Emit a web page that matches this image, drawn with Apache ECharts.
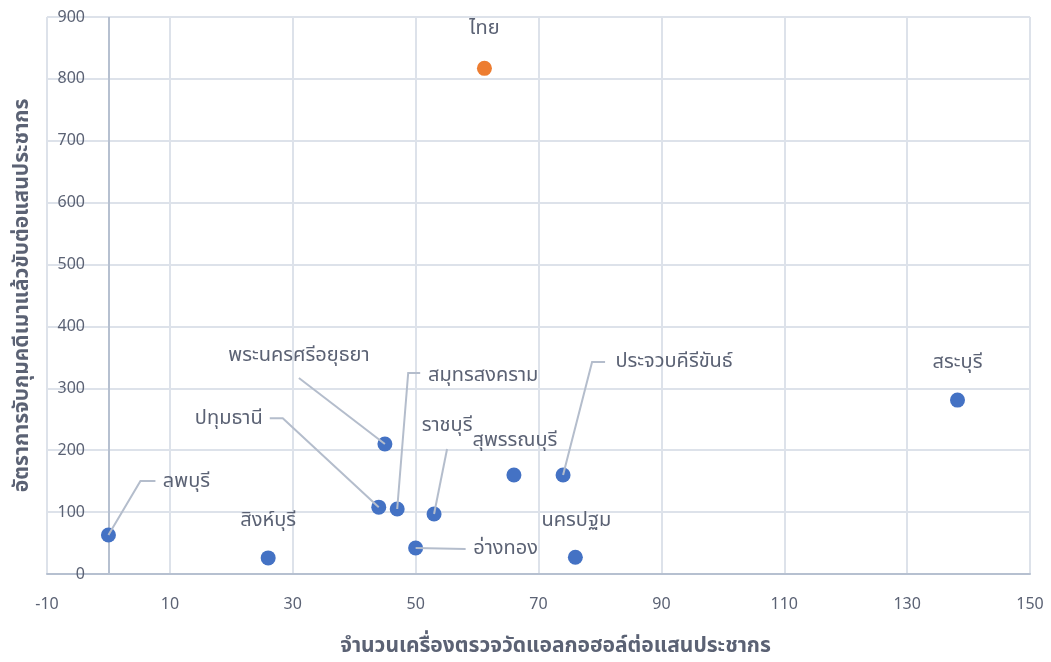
<!DOCTYPE html>
<html>
<head>
<meta charset="utf-8">
<script src="https://cdn.jsdelivr.net/npm/echarts@6/dist/echarts.min.js"></script>
<style>
  html, body { margin: 0; padding: 0; background: #ffffff; }
  #chart { width: 1051px; height: 662px; }
</style>
</head>
<body>
<div id="chart"></div>
<script>
// Provinces and their values
const provinces = ['ไทย', 'สระบุรี', 'ประจวบคีรีขันธ์', 'สุพรรณบุรี', 'นครปฐม', 'อ่างทอง', 'ราชบุรี', 'สมุทรสงคราม', 'ปทุมธานี', 'พระนครศรีอยุธยา', 'สิงห์บุรี', 'ลพบุรี'];
// Breathalyzers per 100,000 population
const breathalyzers = [61.2, 138.2, 74, 66, 76, 50, 53, 47, 44, 45, 26, 0];
// Drunk-driving arrests per 100,000 population
const arrestRate = [817, 281, 160, 160, 27, 42, 97, 105, 108, 210, 26, 63];
// The national figure is highlighted
const highlighted = ['ไทย'];

// Label placement: pixel offset of each label's centre from its marker
const labelOffsets = [[0, -40], [0, -38], [111, -114], [1, -35], [1, -37], [90, 0], [13, -89], [86, -134], [-150, -89], [-86, -89], [0, -38], [78, -54]];
// Leader-line bends (pixel offsets from the marker), null where no line is drawn
const leaderPaths = [
  null,
  null,
  [[29, -113], [42, -113]],
  null,
  null,
  [[50, 1]],
  [[13, -65]],
  [[11, -136], [23, -136]],
  [[-96, -89], [-109, -89]],
  [[-86, -66]],
  null,
  [[32, -54], [47, -54]]
];

const FONT = '"Noto Sans", "Noto Sans Thai", sans-serif';
const TEXT = '#5b6274';
const GRID = '#dde2ea';
const AXIS = '#b6c0d0';
const LEADER = '#b4bdcc';

const chart = echarts.init(document.getElementById('chart'), null, { renderer: 'canvas' });

const points = provinces.map((name, i) => ({
  name: name,
  value: [breathalyzers[i], arrestRate[i]],
  itemStyle: { color: highlighted.includes(name) ? '#ED7D31' : '#4472C4', opacity: 1 }
}));

chart.setOption({
  backgroundColor: '#ffffff',
  animation: false,
  grid: { left: 47, right: 21, top: 17, bottom: 88, containLabel: false, outerBoundsMode: 'none' },
  xAxis: {
    type: 'value',
    min: -10,
    max: 150,
    interval: 20,
    name: 'จำนวนเครื่องตรวจวัดแอลกอฮอล์ต่อแสนประชากร',
    nameLocation: 'middle',
    nameGap: 62,
    nameTextStyle: { color: TEXT, fontSize: 21, fontWeight: 'bold', fontFamily: FONT, padding: [0, 0, 0, 34] },
    axisLine: { show: true, onZero: false, lineStyle: { color: AXIS, width: 2 } },
    axisTick: { show: false },
    axisLabel: { color: TEXT, fontSize: 16, margin: 22, fontFamily: FONT },
    splitLine: { show: true, lineStyle: { color: GRID, width: 2 } }
  },
  yAxis: {
    type: 'value',
    min: 0,
    max: 900,
    interval: 100,
    name: 'อัตราการจับกุมคดีเมาแล้วขับต่อแสนประชากร',
    nameLocation: 'middle',
    nameGap: 14,
    nameRotate: 90,
    nameTextStyle: { color: TEXT, fontSize: 21, fontWeight: 'bold', fontFamily: FONT },
    axisLine: { show: false, onZero: false },
    axisTick: { show: false },
    axisLabel: { color: TEXT, fontSize: 16, inside: true, align: 'right', margin: 38, fontFamily: FONT },
    splitLine: { show: true, lineStyle: { color: GRID, width: 2 } }
  },
  series: [{
    type: 'scatter',
    symbolSize: 15,
    data: points,
    label: {
      show: true,
      position: 'inside',
      formatter: p => p.name,
      color: TEXT,
      fontSize: 20,
      fontFamily: FONT
    },
    labelLayout: params => ({
      dx: labelOffsets[params.dataIndex][0],
      dy: labelOffsets[params.dataIndex][1]
    }),
    // vertical axis line drawn where x = 0
    markLine: {
      silent: true,
      symbol: 'none',
      label: { show: false },
      lineStyle: { color: AXIS, type: 'solid', width: 2 },
      data: [{ xAxis: 0 }],
      z: 1
    },
    z: 3
  }]
});

// Leader lines from each marker to its label, anchored on the marker's pixel position
const leaderGraphics = [];
provinces.forEach((name, i) => {
  const path = leaderPaths[i];
  if (!path) return;
  const [px, py] = chart.convertToPixel({ gridIndex: 0 }, [breathalyzers[i], arrestRate[i]]);
  const pts = [[px, py]].concat(path.map(([dx, dy]) => [px + dx, py + dy]));
  leaderGraphics.push({
    type: 'polyline',
    shape: { points: pts },
    style: { stroke: LEADER, lineWidth: 2, fill: null },
    silent: true,
    z: 10
  });
});
chart.setOption({ graphic: leaderGraphics });
</script>
</body>
</html>
